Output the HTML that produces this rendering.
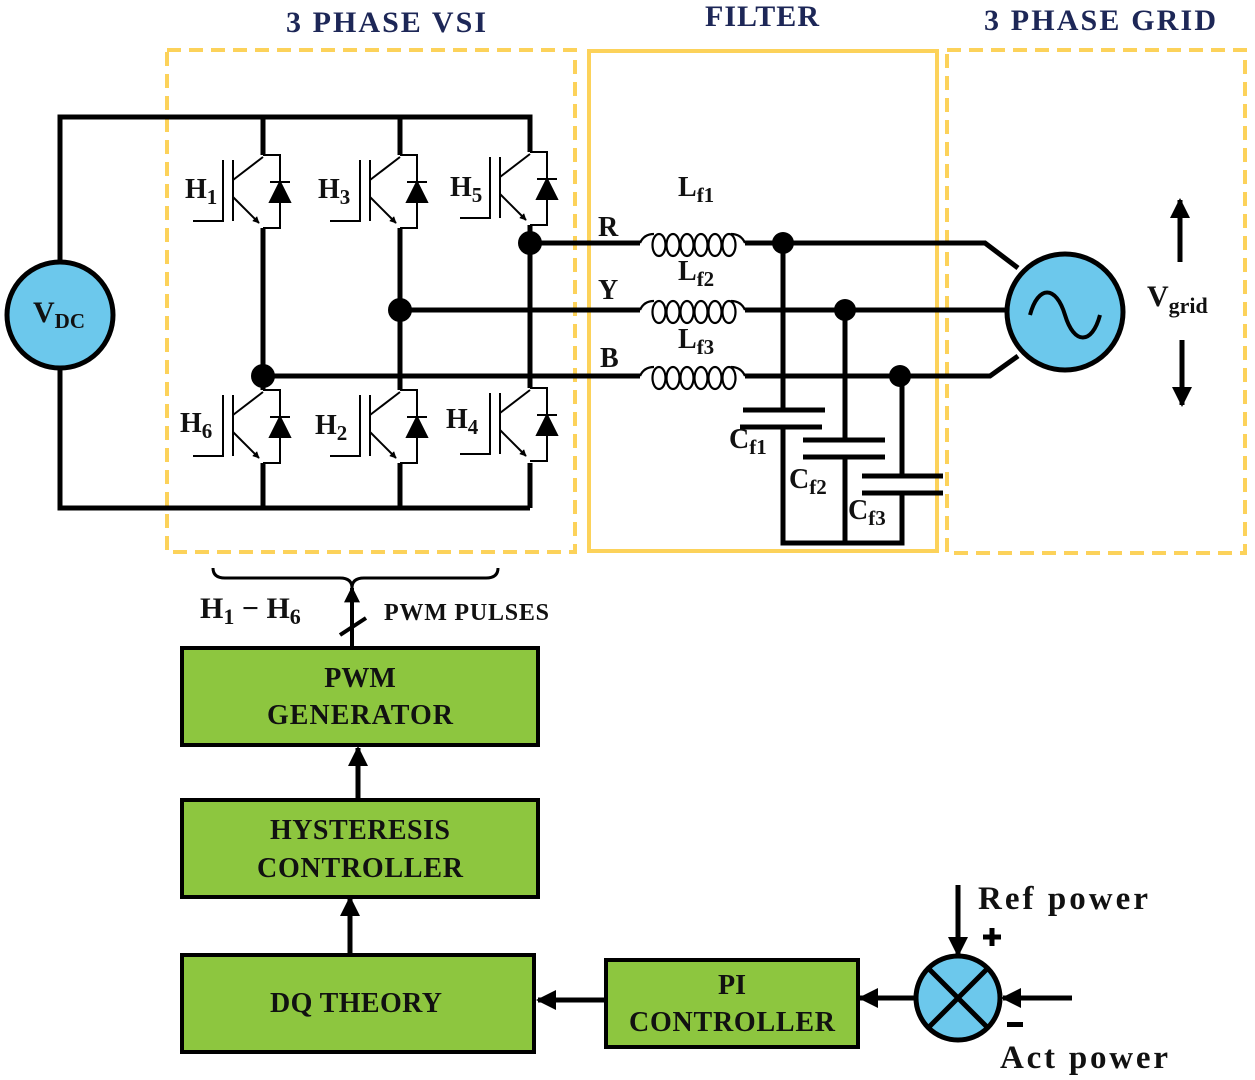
<!DOCTYPE html>
<html><head><meta charset="utf-8"><style>
body{margin:0;background:#fff}
svg{display:block}
text{font-family:"Liberation Serif",serif;font-weight:bold;fill:#111}
</style></head><body>
<svg width="1255" height="1080" viewBox="0 0 1255 1080" xmlns="http://www.w3.org/2000/svg">
<defs>
<marker id="ah" viewBox="0 0 10 10" refX="9" refY="5" markerWidth="4" markerHeight="4" orient="auto"><path d="M0,0L10,5L0,10z" fill="#000"/></marker>
<marker id="as" viewBox="0 0 10 10" refX="9" refY="5" markerWidth="3.5" markerHeight="3.5" orient="auto"><path d="M0,0L10,5L0,10z" fill="#000"/></marker>
<g id="sw" fill="none" stroke="#000" stroke-width="2">
<path d="M0,2L-30,25"/>
<path d="M-30,5V66M-40,5V66H-70"/>
<path d="M-30,42L-4,68" marker-end="url(#as)"/>
<path d="M0,0H17V73H0"/>
<path d="M7,27H27" />
<path d="M7,47H27L17,27z" fill="#000"/>
</g>
</defs>
<!-- boxes -->
<rect x="167" y="50" width="408" height="502" fill="none" stroke="#fcd25a" stroke-width="4" stroke-dasharray="14,8"/>
<rect x="589" y="51" width="348" height="500" fill="none" stroke="#fcd25a" stroke-width="4"/>
<rect x="947" y="50" width="298" height="503" fill="none" stroke="#fcd25a" stroke-width="4" stroke-dasharray="14,8"/>
<text x="386" y="32" font-size="30" text-anchor="middle" style="fill:#1d2757" textLength="200">3 PHASE VSI</text>
<text x="762" y="26" font-size="30" text-anchor="middle" style="fill:#1d2757" textLength="114">FILTER</text>
<text x="1100" y="30" font-size="30" text-anchor="middle" style="fill:#1d2757" textLength="232">3 PHASE GRID</text>
<!-- rails -->
<g stroke="#000" stroke-width="5" fill="none">
<path d="M60,262V117H530V152M263,117V155M400,117V155"/>
<path d="M60,368V508H530M263,508V463M400,508V463M530,508V463"/>
<path d="M263,228V390M400,228V390M530,225V388"/>
<path d="M530,243H640M400,310H640M263,376H640"/>
<path d="M745,243H985L1018,268M745,310H1007M745,376H990L1018,356"/>
<path d="M783,243V410M845,310V440M902,376V476M783,427V543H902V493M845,457V543"/>
<path d="M743,410H825M740,427H822M803,440H885M803,457H885M862,476H943M862,493H943"/>
</g>
<g fill="#000"><circle cx="530" cy="243" r="12"/><circle cx="400" cy="310" r="12"/><circle cx="263" cy="376" r="12"/>
<circle cx="783" cy="243" r="11"/><circle cx="845" cy="310" r="11"/><circle cx="900" cy="376" r="11"/></g>
<!-- switches -->
<use href="#sw" x="263" y="155"/><use href="#sw" x="400" y="155"/><use href="#sw" x="530" y="152"/>
<use href="#sw" x="263" y="390"/><use href="#sw" x="400" y="390"/><use href="#sw" x="530" y="388"/>
<g font-size="28"><text x="185" y="198">H<tspan font-size="21" dy="6">1</tspan></text>
<text x="318" y="198">H<tspan font-size="21" dy="6">3</tspan></text>
<text x="450" y="196">H<tspan font-size="21" dy="6">5</tspan></text>
<text x="180" y="432">H<tspan font-size="21" dy="6">6</tspan></text>
<text x="315" y="434">H<tspan font-size="21" dy="6">2</tspan></text>
<text x="446" y="428">H<tspan font-size="21" dy="6">4</tspan></text></g>
<!-- VDC -->
<circle cx="60" cy="315" r="53" fill="#6cc8ec" stroke="#000" stroke-width="5"/>
<text x="33" y="322" font-size="30">V<tspan font-size="21" dy="6">DC</tspan></text>
<!-- inductors -->
<g fill="none" stroke="#000" stroke-width="2.2">
<path d="M640,243 q4,-9 14,-9 M640,310 q4,-9 14,-9 M640,376 q4,-9 14,-9 M745,243 q-4,-9 -14,-9 M745,310 q-4,-9 -14,-9 M745,376 q-4,-9 -14,-9"/>
<g id="coils"><ellipse cx="659" cy="245" rx="6.5" ry="11"/><ellipse cx="673" cy="245" rx="6.5" ry="11"/><ellipse cx="687" cy="245" rx="6.5" ry="11"/><ellipse cx="701" cy="245" rx="6.5" ry="11"/><ellipse cx="715" cy="245" rx="6.5" ry="11"/><ellipse cx="729" cy="245" rx="6.5" ry="11"/></g>
<use href="#coils" y="67"/><use href="#coils" y="133"/>
</g>
<g font-size="28"><text x="678" y="196">L<tspan font-size="21" dy="6">f1</tspan></text>
<text x="678" y="280">L<tspan font-size="21" dy="6">f2</tspan></text>
<text x="678" y="348">L<tspan font-size="21" dy="6">f3</tspan></text>
<text x="598" y="236">R</text><text x="598" y="299">Y</text><text x="600" y="367">B</text>
<text x="729" y="448">C<tspan font-size="21" dy="6">f1</tspan></text>
<text x="789" y="488">C<tspan font-size="21" dy="6">f2</tspan></text>
<text x="848" y="519">C<tspan font-size="21" dy="6">f3</tspan></text></g>
<!-- grid -->
<circle cx="1065" cy="312" r="58" fill="#6cc8ec" stroke="#000" stroke-width="5"/>
<path d="M1030,315 c8,-30 26,-30 35,0 c9,30 27,30 35,0" fill="none" stroke="#000" stroke-width="4"/>
<path d="M1180,262V200" stroke="#000" stroke-width="5" marker-end="url(#ah)"/>
<path d="M1182,340V405" stroke="#000" stroke-width="5" marker-end="url(#ah)"/>
<text x="1147" y="306" font-size="30">V<tspan font-size="22" dy="7">grid</tspan></text>
<!-- brace -->
<path d="M213,568 q0,10 12,10 H340 q12,0 12,10 q0,-10 12,-10 H486 q12,0 12,-10" fill="none" stroke="#000" stroke-width="3"/>
<path d="M352,648V588" stroke="#000" stroke-width="4" marker-end="url(#ah)"/>
<path d="M340,635L366,618" stroke="#000" stroke-width="4"/>
<text x="200" y="618" font-size="30">H<tspan font-size="22" dy="6">1</tspan><tspan dy="-6"> − H</tspan><tspan font-size="22" dy="6">6</tspan></text>
<text x="384" y="620" font-size="24" textLength="165">PWM PULSES</text>
<!-- blocks -->
<g fill="#8dc63f" stroke="#000" stroke-width="4">
<rect x="182" y="648" width="356" height="97"/>
<rect x="182" y="800" width="356" height="97"/>
<rect x="182" y="955" width="352" height="97"/>
<rect x="606" y="960" width="252" height="87"/>
</g>
<g font-size="28" text-anchor="middle">
<text x="360" y="687">PWM</text><text x="360" y="724" textLength="186">GENERATOR</text>
<text x="360" y="839" textLength="180">HYSTERESIS</text><text x="360" y="877" textLength="206">CONTROLLER</text>
<text x="356" y="1012" textLength="172">DQ THEORY</text>
<text x="732" y="994">PI</text><text x="732" y="1031" textLength="206">CONTROLLER</text></g>
<g stroke="#000" stroke-width="5">
<path d="M358,800V748" marker-end="url(#ah)"/>
<path d="M350,955V898" marker-end="url(#ah)"/>
<path d="M606,1000H538" marker-end="url(#ah)"/>
<path d="M915,998H860" marker-end="url(#ah)"/>
<path d="M958,885V955" marker-end="url(#ah)"/>
<path d="M1072,998H1003" marker-end="url(#ah)"/>
</g>
<circle cx="958" cy="998" r="42" fill="#6cc8ec" stroke="#000" stroke-width="5"/>
<path d="M928,968L988,1028M988,968L928,1028" stroke="#000" stroke-width="5"/>
<text x="978" y="909" font-size="33" textLength="170">Ref power</text>
<text x="1000" y="1068" font-size="33" textLength="168">Act power</text>
<path d="M992,928V946M983,937H1001" stroke="#000" stroke-width="5"/>
<rect x="1007" y="1022" width="16" height="5" fill="#000"/>
</svg>
</body></html>
